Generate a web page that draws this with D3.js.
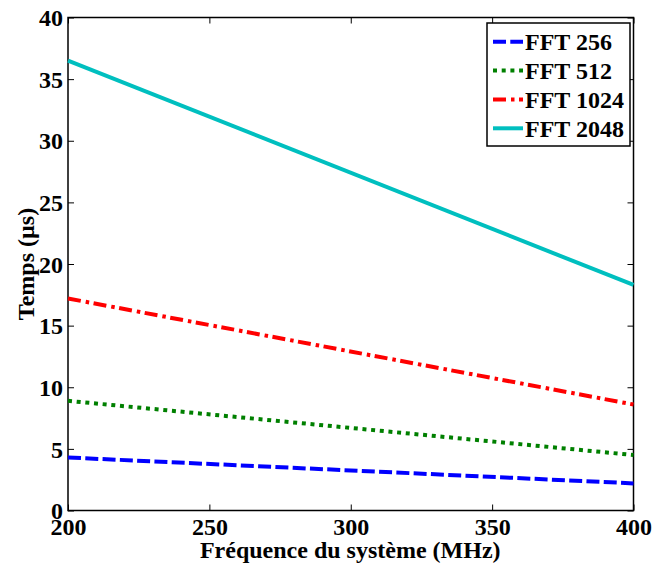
<!DOCTYPE html>
<html>
<head>
<meta charset="utf-8">
<script src="https://cdn.jsdelivr.net/npm/d3@7"></script>
<style>
  html, body { margin: 0; padding: 0; background: #fff; }
  svg { display: block; }
  text { font-family: "Liberation Serif", "Times New Roman", Times, serif; font-weight: bold; }
</style>
</head>
<body>
<svg id="chart" width="653" height="564"></svg>
<script>
// ---- data ----
const frequencies = [200, 400];
const fft256 = [4.3, 2.2];
const fft512 = [8.9, 4.5];
const fft1024 = [17.2, 8.6];
const fft2048 = [36.5, 18.3];
const seriesNames = ["FFT 256", "FFT 512", "FFT 1024", "FFT 2048"];
const xTicks = [200, 250, 300, 350, 400];
const yTicks = [0, 5, 10, 15, 20, 25, 30, 35, 40];
const xLabel = "Fréquence du système (MHz)";
const yLabel = "Temps (µs)";

const seriesValues = [fft256, fft512, fft1024, fft2048];
const seriesColors = ["#0000ff", "#008000", "#ff0000", "#00bfbf"];
const seriesDash = ["13,4.3", "4,4.7", "13,5,3.5,4.5", null];

// ---- layout ----
const svg = d3.select("#chart");
const mLeft = 68, mRight = 633.5, mTop = 17.5, mBottom = 510.5;
const FONT = '"Liberation Serif", "Times New Roman", Times, serif';

const x = d3.scaleLinear().domain([200, 400]).range([mLeft, mRight]);
const y = d3.scaleLinear().domain([0, 40]).range([mBottom, mTop]);

const tickLen = 6;
const fontSize = 24;

// axes (ticks inward)
const gx = svg.append("g").attr("transform", `translate(0,${mBottom})`)
  .call(d3.axisBottom(x).tickValues(xTicks).tickSize(-tickLen).tickFormat(d3.format("d")));
const gxTop = svg.append("g").attr("transform", `translate(0,${mTop})`)
  .call(d3.axisTop(x).tickValues(xTicks).tickSize(-tickLen).tickFormat(""));
const gy = svg.append("g").attr("transform", `translate(${mLeft},0)`)
  .call(d3.axisLeft(y).tickValues(yTicks).tickSize(-tickLen).tickPadding(5).tickFormat(d3.format("d")));
const gyRight = svg.append("g").attr("transform", `translate(${mRight},0)`)
  .call(d3.axisRight(y).tickValues(yTicks).tickSize(-tickLen).tickFormat(""));

[gx, gxTop, gy, gyRight].forEach(g => {
  g.attr("font-family", FONT).attr("font-size", fontSize).attr("font-weight", "bold");
  g.select(".domain").remove();
  g.selectAll(".tick line").attr("stroke", "#000").attr("stroke-width", 1);
  g.selectAll("text").attr("fill", "#000");
});
gx.selectAll("text").attr("y", 7).attr("dy", "0.71em");
gy.selectAll("text").attr("x", -5).attr("dy", "0.34em");

// frame
svg.append("rect")
  .attr("x", mLeft).attr("y", mTop)
  .attr("width", mRight - mLeft).attr("height", mBottom - mTop)
  .attr("fill", "none").attr("stroke", "#000").attr("stroke-width", 1.5);

// lines
const line = d3.line().x((d, i) => x(frequencies[i])).y(d => y(d));
seriesValues.forEach((vals, i) => {
  const p = svg.append("path")
    .datum(vals)
    .attr("d", line)
    .attr("fill", "none")
    .attr("stroke", seriesColors[i])
    .attr("stroke-width", 4);
  if (seriesDash[i]) p.attr("stroke-dasharray", seriesDash[i]);
});

// axis labels
svg.append("text")
  .attr("x", (mLeft + mRight) / 2 - 0.5).attr("y", 558)
  .attr("text-anchor", "middle").attr("font-size", fontSize).attr("fill", "#000")
  .attr("font-family", FONT).attr("font-weight", "bold")
  .text(xLabel);
svg.append("text")
  .attr("transform", `translate(34,${(mTop + mBottom) / 2}) rotate(-90)`)
  .attr("text-anchor", "middle").attr("font-size", fontSize).attr("fill", "#000")
  .attr("font-family", FONT).attr("font-weight", "bold")
  .text(yLabel);

// legend
const lgX = 487, lgY = 23, lgW = 143, lgH = 123;
const lg = svg.append("g");
lg.append("rect").attr("x", lgX).attr("y", lgY).attr("width", lgW).attr("height", lgH)
  .attr("fill", "#fff").attr("stroke", "#000").attr("stroke-width", 1.5);
const rowY = d3.scalePoint().domain(seriesNames).range([41.7, 128.3]);
seriesNames.forEach((name, i) => {
  const cy = rowY(name);
  const l = lg.append("line")
    .attr("x1", 493).attr("x2", 523).attr("y1", cy).attr("y2", cy)
    .attr("stroke", seriesColors[i]).attr("stroke-width", 4);
  if (seriesDash[i]) l.attr("stroke-dasharray", seriesDash[i]);
  lg.append("text").attr("x", 525).attr("y", cy).attr("dy", "0.35em")
    .attr("font-size", fontSize).attr("fill", "#000")
    .attr("font-family", FONT).attr("font-weight", "bold").text(name);
});
</script>
</body>
</html>
